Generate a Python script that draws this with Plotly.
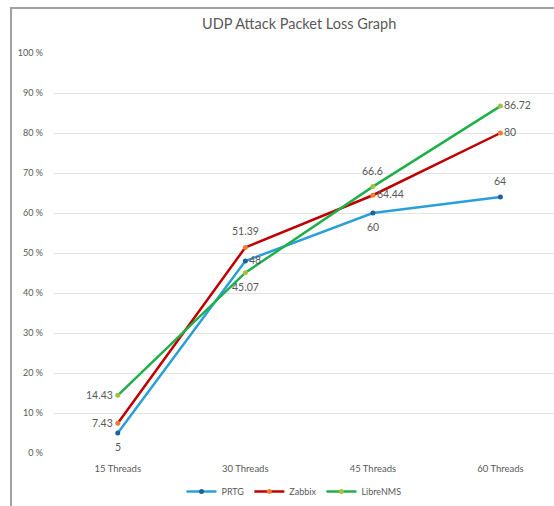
import plotly.graph_objects as go

categories = ["15 Threads", "30 Threads", "45 Threads", "60 Threads"]
prtg = [5, 48, 60, 64]
zabbix = [7.43, 51.39, 64.44, 80]
librenms = [14.43, 45.07, 66.6, 86.72]
y_ticks = [0, 10, 20, 30, 40, 50, 60, 70, 80, 90, 100]
y_tick_labels = [f"{v} %" for v in y_ticks]

prtg_pos = ["below", "right", "below", "above"]
zabbix_pos = ["left", "above", "right", "right"]
libre_pos = ["left", "below", "above", "right"]

FONT = "Lato, sans-serif"
LABEL_COLOR = "#595959"

SHIFT = {
    "below": dict(xanchor="center", yanchor="middle", xshift=0, yshift=-14),
    "above": dict(xanchor="center", yanchor="middle", xshift=0, yshift=16),
    "left": dict(xanchor="right", yanchor="middle", xshift=-3, yshift=0),
    "right": dict(xanchor="left", yanchor="middle", xshift=2, yshift=1),
}

fig = go.Figure()
annotations = []

def add(name, vals, line_color, marker_color, pos):
    fig.add_trace(go.Scatter(
        x=categories, y=vals, name=name, mode="lines+markers",
        line=dict(color=line_color, width=2.5),
        marker=dict(color=marker_color, size=5),
        cliponaxis=False,
    ))
    for c, v, p in zip(categories, vals, pos):
        annotations.append(dict(
            x=c, y=v, xref="x", yref="y", text=f"{v:g}", showarrow=False,
            font=dict(family=FONT, size=10.5, color=LABEL_COLOR), **SHIFT[p]))

add("PRTG", prtg, "#2a9fd8", "#1f5fa0", prtg_pos)
add("Zabbix", zabbix, "#c00000", "#ed7d31", zabbix_pos)
add("LibreNMS", librenms, "#1fb04a", "#a5c040", libre_pos)

fig.update_layout(
    width=554, height=506,
    margin=dict(l=54, r=0, t=53, b=53),
    paper_bgcolor="white", plot_bgcolor="white",
    font=dict(family=FONT, color=LABEL_COLOR, size=10),
    title=dict(text="UDP Attack Packet Loss Graph", x=0.54, xanchor="center",
               y=1 - 24 / 506, yanchor="middle",
               font=dict(family=FONT, size=14.5, color="#595959")),
    xaxis=dict(type="category", range=[-0.5, 3.42], showgrid=False,
               showline=False, ticks="", tickfont=dict(size=9.5),
               zeroline=False, ticklabelstandoff=8),
    yaxis=dict(range=[0, 100], tickvals=y_ticks, ticktext=y_tick_labels,
               showgrid=True, gridcolor="#e3e3e3", gridwidth=1,
               zeroline=False, showline=False, ticks="", ticklabelstandoff=10,
               tickfont=dict(size=9)),
    legend=dict(orientation="h", x=0.48, xanchor="center", y=-0.0975,
                yanchor="middle", font=dict(size=9), itemwidth=30,
                bgcolor="rgba(0,0,0,0)"),
    annotations=annotations,
    shapes=[dict(type="rect", xref="paper", yref="paper",
                 x0=(11 - 54) / 500, x1=1.3, y0=-0.3, y1=(453 - 8) / 400,
                 line=dict(color="#a0a0a0", width=2), layer="below")],
)

fig.write_html("out.html")
